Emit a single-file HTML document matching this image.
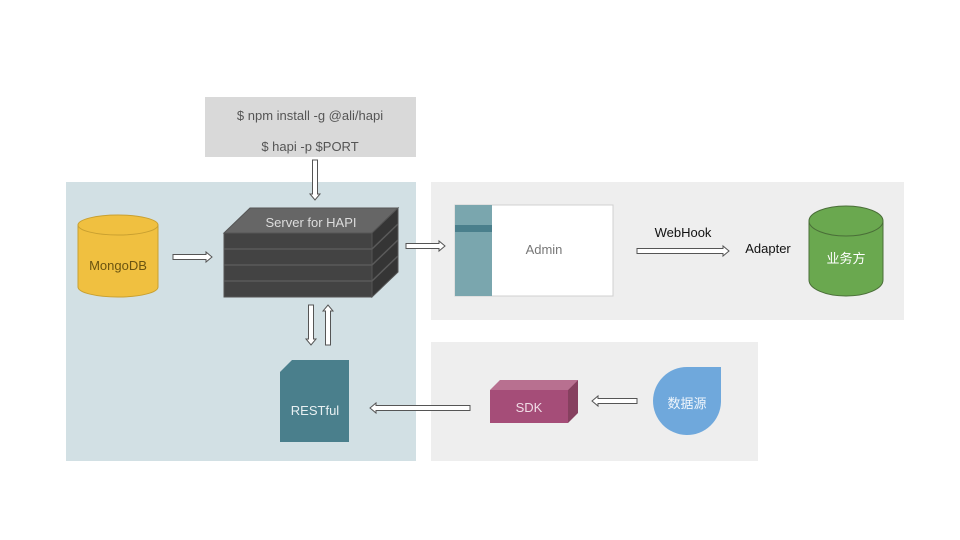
<!DOCTYPE html>
<html><head><meta charset="utf-8"><style>
html,body{margin:0;padding:0;background:#fff;width:960px;height:540px;overflow:hidden}
text{font-family:"Liberation Sans","Noto Sans CJK SC",sans-serif}
</style></head><body>
<svg width="960" height="540" viewBox="0 0 960 540" xmlns="http://www.w3.org/2000/svg">
<rect x="205" y="97" width="211" height="60" fill="#d9d9d9"/>
<text x="310" y="120" font-size="13" fill="#555" text-anchor="middle">$ npm install -g @ali/hapi</text>
<text x="310" y="151" font-size="13" fill="#555" text-anchor="middle">$ hapi -p $PORT</text>
<rect x="66" y="182" width="350" height="279" fill="#d2e0e4"/>
<rect x="431" y="182" width="473" height="138" fill="#eeeeee"/>
<rect x="431" y="342" width="327" height="119" fill="#eeeeee"/>
<g fill="#fff" stroke="#555" stroke-width="1">
<path d="M312.5,160 V194 H310 L315,200 L320,194 H317.5 V160Z"/>
<path d="M173,254.5 H206 V252 L212,257 L206,262 V259.5 H173Z"/>
<path d="M406,243.5 H439 V241 L445,246 L439,251 V248.5 H406Z"/>
<path d="M637,248.5 H723 V246 L729,251 L723,256 V253.5 H637Z"/>
<path d="M470,405.5 H376 V403 L370,408 L376,413 V410.5 H470Z"/>
<path d="M637,398.5 H598 V396 L592,401 L598,406 V403.5 H637Z"/>
<path d="M308.5,305 V339 H306 L311,345 L316,339 H313.5 V305Z"/>
<path d="M325.5,345 V311 H323 L328,305 L333,311 H330.5 V345Z"/>
</g>
<g stroke="#c9a030" stroke-width="1">
<path d="M78,225 V287 A40,10 0 0 0 158,287 V225Z" fill="#f0c040"/>
<ellipse cx="118" cy="225" rx="40" ry="10" fill="#f0c040"/>
</g>
<text x="118" y="270" font-size="13" fill="#6b5410" text-anchor="middle">MongoDB</text>
<g stroke="#555" stroke-width="1">
<path d="M224,233 L250,208 H398 L372,233Z" fill="#666"/>
<path d="M372,233 L398,208 V272 L372,297Z" fill="#353535"/>
<rect x="224" y="233" width="148" height="64" fill="#434343"/>
<path d="M224,249 H372 L398,224 M224,265 H372 L398,240 M224,281 H372 L398,256" fill="none" stroke="#5a5a5a" stroke-width="1.5"/>
</g>
<text x="311" y="227" font-size="13" fill="#ddd" text-anchor="middle">Server for HAPI</text>
<path d="M292,360 H349 V442 H280 V372Z" fill="#4a7f8c"/>
<text x="315" y="415" font-size="13" fill="#e8f0f2" text-anchor="middle">RESTful</text>
<rect x="455" y="205" width="158" height="91" fill="#fff" stroke="#d0d0d0"/>
<rect x="455" y="205" width="37" height="91" fill="#7aa6ae"/>
<rect x="455" y="225" width="37" height="7" fill="#4a7f8c"/>
<text x="544" y="254" font-size="13" fill="#777" text-anchor="middle">Admin</text>
<text x="683" y="237" font-size="13" fill="#111" text-anchor="middle">WebHook</text>
<text x="768" y="253" font-size="13" fill="#111" text-anchor="middle">Adapter</text>
<g stroke="#4a6e38" stroke-width="1">
<path d="M809,221 V280 A37,16 0 0 0 883,280 V221Z" fill="#6aa84f"/>
<ellipse cx="846" cy="221" rx="37" ry="15" fill="#6aa84f"/>
</g>
<text x="846" y="263" font-size="13" fill="#fff" text-anchor="middle">业务方</text>
<path d="M490,400 L500,380 H578 L568,400Z" fill="#b87090"/>
<path d="M568,390 L578,380 V413 L568,423Z" fill="#86405f"/>
<path d="M490,390 L500,380 H578 L568,390Z" fill="#b87090"/>
<rect x="490" y="390" width="78" height="33" fill="#a54d78"/>
<text x="529" y="412" font-size="13" fill="#f0dce6" text-anchor="middle">SDK</text>
<path d="M721,367 V402 A34,34 0 1 1 687,367Z" fill="#6fa8dc"/>
<text x="687" y="408" font-size="13" fill="#f0f6fc" text-anchor="middle">数据源</text>
</svg>
</body></html>
